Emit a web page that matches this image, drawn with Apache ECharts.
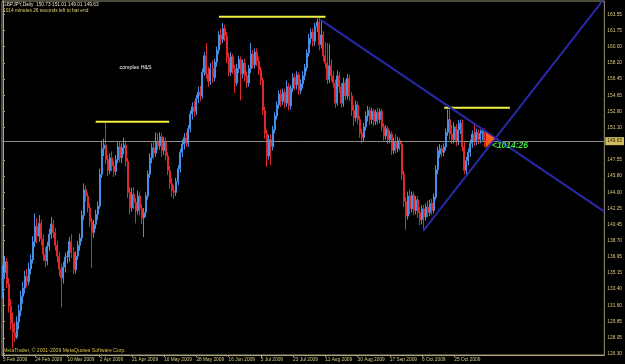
<!DOCTYPE html>
<html><head><meta charset="utf-8">
<script src="https://cdn.jsdelivr.net/npm/echarts@6/dist/echarts.min.js"></script>
<style>html,body{margin:0;padding:0;background:#000;}#c{width:625px;height:364px;}</style>
</head><body><div id="c"></div>
<script>
// tick labels of the time axis (one every 16 bars)
const dateLabels = ['5 Feb 2009','24 Feb 2009','10 Mar 2009','2 Apr 2009','21 Apr 2009','10 May 2009','28 May 2009','16 Jun 2009','5 Jul 2009','23 Jul 2009','11 Aug 2009','30 Aug 2009','17 Sep 2009','6 Oct 2009','25 Oct 2009'];
const barsPerLabel = 16;
const slotCount = 299;
// price axis labels (the one under the bid box is hidden, as in the terminal)
const priceTicks = [126.30,128.05,129.85,131.60,133.40,135.15,136.95,138.70,140.45,142.25,144.00,145.80,147.55,151.10,152.90,154.65,156.45,158.20,160.00,161.75,163.55];
const priceMin = 126.157, priceMax = 165.01;
const bidPrice = 149.63;
// daily candles: [open, close, low, high]
const candles = [
[133.0,135.2,132.4,136.0],[135.2,136.4,134.5,137.0],[136.4,134.0,133.5,136.8],[134.0,131.5,130.8,134.6],[131.5,129.6,128.9,132.3],
[129.6,128.6,126.9,130.8],[128.6,128.1,127.6,129.8],[128.1,129.8,127.9,130.4],[129.8,131.0,129.0,131.7],[131.0,132.6,130.4,133.2],
[132.6,133.5,131.8,134.2],[133.5,134.8,132.9,135.4],[134.8,134.2,133.6,135.6],[134.2,135.6,133.8,136.3],[135.6,136.6,135.0,137.2],
[136.6,138.6,136.2,139.2],[138.6,140.3,138.0,141.7],[140.3,139.2,138.4,141.2],[139.2,140.6,138.6,141.5],[140.6,138.9,138.2,141.0],
[138.9,137.2,136.5,139.4],[137.2,136.5,135.8,138.0],[136.5,138.1,136.0,138.6],[138.1,139.4,137.6,140.0],[139.4,140.5,138.9,141.3],
[140.5,139.6,139.0,141.0],[139.6,138.2,137.6,140.1],[138.2,137.0,136.3,138.7],[137.0,135.6,134.8,137.5],[135.6,134.6,131.4,136.2],
[134.6,135.8,134.0,136.4],[135.8,136.9,135.2,137.4],[136.9,136.95,136.2,137.6],[136.9,138.6,136.4,139.1],[138.6,137.4,136.8,139.4],
[137.4,135.5,135.0,138.0],[135.5,137.0,135.1,137.5],[137.0,138.2,136.6,138.7],[138.2,139.0,137.6,139.5],[139.0,141.5,138.6,142.0],
[141.5,144.3,141.0,145.0],[144.3,143.6,143.0,144.8],[143.6,142.3,141.8,144.0],[142.3,140.8,140.2,142.8],[140.8,139.6,135.7,141.2],
[139.6,140.5,139.0,141.0],[140.5,141.6,140.0,142.1],[141.6,142.5,141.0,143.0],[142.5,146.0,142.2,146.6],[146.0,148.8,145.6,149.7],
[148.8,149.2,148.0,149.9],[149.2,147.6,147.1,151.7],[147.6,146.4,145.8,148.1],[146.4,147.8,146.0,148.3],[147.8,146.9,146.3,148.5],
[146.9,146.3,145.7,147.5],[146.3,147.6,145.9,148.1],[147.6,149.0,147.2,149.5],[149.0,147.8,147.3,149.6],[147.8,148.9,147.2,149.4],
[148.9,149.2,148.2,150.0],[149.2,147.4,146.8,149.7],[147.4,144.0,143.4,147.8],[144.0,142.3,141.6,144.6],[142.3,143.8,141.9,144.5],
[143.8,142.9,142.2,144.6],[142.9,142.0,140.6,143.4],[142.0,143.6,141.6,144.2],[143.6,142.2,141.5,144.0],[142.2,141.2,140.5,142.7],
[141.2,141.8,139.1,142.3],[141.8,143.6,141.3,144.0],[143.6,146.0,143.2,146.4],[146.0,147.8,145.6,148.3],[147.8,148.9,147.2,149.4],
[148.9,148.3,147.7,149.6],[148.3,149.6,147.9,150.6],[149.6,149.1,148.6,150.5],[149.1,150.1,148.7,150.6],[150.1,148.6,147.9,150.5],
[148.6,149.5,148.1,150.1],[149.5,148.0,147.5,150.0],[148.0,146.4,145.9,148.4],[146.4,145.0,144.4,146.9],[145.0,144.2,143.5,145.6],
[144.2,144.0,143.3,144.8],[144.0,145.2,143.6,145.6],[145.2,146.6,144.8,147.0],[146.6,148.4,146.2,148.8],[148.4,149.3,147.9,149.8],
[149.3,150.0,148.7,150.5],[150.0,149.4,149.0,150.6],[149.4,151.0,149.0,151.4],[151.0,152.6,150.6,153.0],[152.6,153.4,152.0,153.9],
[153.4,152.9,152.3,154.0],[152.9,154.3,152.5,154.7],[154.3,155.0,153.8,155.6],[155.0,154.6,154.0,155.7],[154.6,157.2,154.3,157.6],
[157.2,159.0,156.8,159.4],[159.0,157.0,156.5,160.4],[157.0,156.2,155.6,157.8],[156.2,157.6,155.8,158.2],[157.6,156.6,156.0,158.5],
[156.6,158.3,156.2,158.7],[158.3,159.6,157.8,160.0],[159.6,161.3,159.2,161.7],[161.3,160.8,160.2,162.0],[160.8,162.0,160.4,162.6],
[162.0,161.2,160.6,162.4],[161.2,158.8,158.2,161.6],[158.8,157.2,156.7,159.3],[157.2,158.9,156.8,159.4],[158.9,157.6,157.0,159.2],
[157.6,156.0,154.9,158.0],[156.0,157.6,155.7,158.1],[157.6,158.6,157.1,159.0],[158.6,157.0,154.1,158.9],[157.0,158.2,156.5,158.6],
[158.2,156.8,156.2,158.7],[156.8,156.0,155.5,157.3],[156.0,157.6,155.6,158.0],[157.6,159.2,157.1,160.4],[159.2,158.0,157.6,159.6],
[158.0,159.4,157.6,159.8],[159.4,158.4,157.9,159.8],[158.4,157.4,156.9,158.9],[157.4,156.3,155.8,157.8],[156.3,153.0,152.5,156.6],
[153.0,150.5,149.9,153.4],[150.5,148.0,146.8,150.9],[148.0,149.8,147.6,150.3],[149.8,149.0,147.0,150.4],[149.0,150.9,148.6,151.3],
[150.9,152.4,150.5,152.8],[152.4,153.6,152.0,154.0],[153.6,154.8,153.2,155.2],[154.8,154.0,153.4,155.3],[154.0,155.0,153.6,155.4],
[155.0,153.8,153.3,155.4],[153.8,155.6,153.4,156.3],[155.6,153.5,153.0,156.0],[153.5,155.4,153.1,155.8],[155.4,156.6,155.0,157.1],
[156.6,155.8,155.2,157.0],[155.8,156.9,155.3,157.3],[156.9,155.2,154.7,157.2],[155.2,155.9,154.8,156.4],[155.9,156.8,155.4,157.3],
[156.8,157.7,156.3,158.1],[157.7,159.3,157.3,159.7],[159.3,160.9,158.9,161.4],[160.9,161.6,160.3,162.0],[161.6,160.6,160.0,162.0],
[160.6,162.2,160.1,162.6],[162.2,162.7,161.6,163.1],[162.7,160.2,159.6,163.2],[160.2,161.3,159.8,162.8],[161.3,159.0,158.4,161.7],
[159.0,158.2,157.6,160.5],[158.2,156.4,155.9,160.4],[156.4,157.9,156.0,160.3],[157.9,156.8,156.2,158.6],[156.8,156.0,155.5,157.3],
[156.0,153.8,153.3,156.4],[153.8,156.8,153.5,157.4],[156.8,155.6,154.9,157.2],[155.6,153.8,153.3,156.0],[153.8,156.0,153.4,156.6],
[156.0,154.6,154.1,156.4],[154.6,156.5,154.2,157.0],[156.5,154.6,154.0,156.9],[154.6,153.0,152.4,155.0],[153.0,152.2,151.3,153.6],
[152.2,153.6,151.8,154.1],[153.6,152.0,151.5,154.0],[152.0,150.5,150.0,152.4],[150.5,150.0,149.4,151.0],[150.0,151.2,149.6,151.6],
[151.2,152.4,150.8,152.9],[152.4,153.0,151.8,153.5],[153.0,152.0,151.4,153.4],[152.0,152.9,151.5,153.3],[152.9,151.8,151.3,153.2],
[151.8,152.8,151.4,153.1],[152.8,152.0,151.5,153.3],[152.0,152.9,151.6,153.2],[152.9,151.2,150.7,153.2],[151.2,150.2,149.7,151.6],
[150.2,151.0,149.8,151.4],[151.0,149.8,149.3,151.3],[149.8,150.4,149.4,150.8],[150.4,148.6,148.1,150.7],[148.6,149.6,148.2,150.0],
[149.6,148.8,148.3,150.4],[148.8,149.7,148.4,150.1],[149.7,149.3,148.6,150.0],[149.3,146.0,145.4,149.6],[146.0,143.0,142.4,146.4],
[143.0,141.4,139.9,143.5],[141.4,143.6,141.0,144.1],[143.6,142.2,141.6,144.3],[142.2,143.7,141.8,144.1],[143.7,142.0,141.5,144.1],
[142.0,143.2,141.6,143.6],[143.2,141.8,141.2,143.6],[141.8,141.0,140.4,142.4],[141.0,142.2,140.5,142.6],[142.2,141.3,139.8,142.6],
[141.3,142.4,140.9,142.8],[142.4,141.8,141.3,143.1],[141.8,142.8,141.4,143.2],[142.8,142.0,141.5,143.3],[142.0,143.5,141.7,143.9],
[143.5,146.5,143.2,147.0],[146.5,148.6,146.0,149.0],[148.2,148.8,147.8,149.3],[148.8,148.4,147.9,149.2],[148.4,149.0,148.0,149.4],
[149.0,150.6,148.6,151.0],[150.6,152.0,150.2,153.1],[152.0,150.4,149.8,153.2],[150.4,149.8,149.3,151.4],[149.8,151.2,149.4,151.7],
[151.2,149.6,149.1,151.5],[149.6,150.9,149.2,151.9],[150.9,151.6,150.4,152.0],[151.6,149.0,148.5,152.0],[149.0,146.4,146.0,149.5],
[146.4,147.5,145.9,147.9],[147.5,148.4,147.0,148.8],[148.4,149.4,147.9,149.8],[149.4,150.4,148.9,150.8],[150.4,149.6,149.1,151.6],
[149.6,150.6,149.2,151.0],[150.6,149.8,149.3,150.9],[149.8,150.5,149.4,150.9],[150.5,150.73,149.7,151.0],[150.73,149.63,149.01,151.01]
];
// hand-drawn objects, in (bar index, price)
const trendDown = [[157.66,162.93],[298.5,141.89]];
const trendUp = [[208.6,139.77],[297.5,165.0]];
const levelLeft = [[46.0,151.76],[82.5,151.76]];
const levelTop = [[107.2,163.29],[160.1,163.29]];
const levelRight = [[219.0,153.30],[251.6,153.30]];
const arrowPts = [[239.5,150.63],[239.5,148.84],[244.1,149.94]];
const timerText = '<1014:26';
const timerAt = [242.7,149.1];

const TXT = '#d8c880';
const FONT = 'Liberation Sans, Arial, sans-serif';
const cats = Array.from({length: slotCount}, (_, i) => String(i));
const showLabel = i => i % barsPerLabel === 0 && i / barsPerLabel < dateLabels.length;

const lineSeries = (pts, color) => ({
  type: 'line', xAxisIndex: 1, yAxisIndex: 0, data: pts, symbol: 'none', silent: true,
  lineStyle: {color: color, width: 2}, clip: true, z: 5, animation: false
});

const chart = echarts.init(document.getElementById('c'), null, {renderer: 'canvas'});
chart.setOption({
  backgroundColor: '#000',
  animation: false,
  grid: {left: 1, top: 1, width: 605, bottom: 9, show: true, borderColor: '#9c937a', borderWidth: 1},
  xAxis: [{
    type: 'category', data: cats, boundaryGap: true,
    axisLine: {show: true, lineStyle: {color: '#b0a47c', width: 1}},
    axisTick: {show: true, interval: (i) => showLabel(i), alignWithLabel: true, length: 2, lineStyle: {color: '#b0a47c'}},
    axisLabel: {show: true, interval: (i) => showLabel(i), formatter: (v, i) => dateLabels[i / barsPerLabel] || '',
      color: TXT, fontSize: 4.8, fontFamily: FONT, align: 'left', margin: 2.5},
    splitLine: {show: false}
  }, {
    type: 'value', min: -0.5, max: slotCount - 0.5, show: false
  }],
  yAxis: [{
    type: 'value', position: 'right', min: priceMin, max: priceMax, scale: true,
    axisLine: {show: true, lineStyle: {color: '#b0a47c'}},
    axisTick: {show: true, customValues: priceTicks, length: 2, lineStyle: {color: '#b0a47c'}},
    axisLabel: {show: true, customValues: priceTicks, formatter: v => v.toFixed(2), color: TXT, fontSize: 4.8, fontFamily: FONT, margin: 3},
    splitLine: {show: false}
  }],
  series: [
    {
      type: 'candlestick', xAxisIndex: 0, yAxisIndex: 0, data: candles, barWidth: 1.5,
      itemStyle: {color: '#4590e4', color0: '#e02828', borderColor: '#4590e4', borderColor0: '#e02828', borderWidth: 1},
      markLine: {
        silent: true, symbol: 'none', animation: false,
        lineStyle: {color: '#8a8a8a', width: 1, type: 'solid'},
        label: {show: true, position: 'end', formatter: () => bidPrice.toFixed(2), color: '#1a1400', backgroundColor: '#d2bc5c',
          fontSize: 4.8, fontFamily: FONT, padding: [1.5, 2, 1.5, 2], distance: 1},
        data: [{yAxis: bidPrice}]
      },
      z: 3
    },
    lineSeries(levelLeft, '#f2f040'),
    lineSeries(levelTop, '#f2f040'),
    lineSeries(levelRight, '#f2f040'),
    lineSeries(trendDown, '#2828aa'),
    lineSeries(trendUp, '#2828aa'),
    {
      type: 'custom', xAxisIndex: 1, yAxisIndex: 0, data: [0], silent: true, z: 6,
      renderItem: (params, api) => ({
        type: 'polygon', shape: {points: arrowPts.map(p => api.coord(p))},
        style: {fill: '#ff5a1e'}
      })
    },
    {
      type: 'custom', xAxisIndex: 1, yAxisIndex: 0, data: [0], silent: true, z: 7,
      renderItem: (params, api) => {
        const p = api.coord(timerAt);
        return {type: 'text', x: p[0], y: p[1], style: {text: timerText, fill: '#3ee03e',
          font: 'italic bold 8.5px ' + FONT, textAlign: 'left', textVerticalAlign: 'middle'}};
      }
    }
  ],
  graphic: [
    {type: 'text', left: 3, top: 2.5, style: {text: 'GBPJPY,Daily  150.73 151.01 149.01 149.63', fill: '#e6e0c0', font: '4.8px ' + FONT}},
    {type: 'text', left: 3, top: 8, style: {text: '1014 minutes 26 seconds left to bar end', fill: '#e8d070', font: '4.8px ' + FONT}},
    {type: 'text', left: 119.5, top: 65, style: {text: 'complex H&S', fill: '#ffffff', font: '5.3px ' + FONT}},
    {type: 'text', left: 3, top: 348, style: {text: 'MetaTrader, \u00a9 2001-2009 MetaQuotes Software Corp.', fill: '#d8c040', font: '5.1px ' + FONT}}
  ]
});
</script></body></html>
